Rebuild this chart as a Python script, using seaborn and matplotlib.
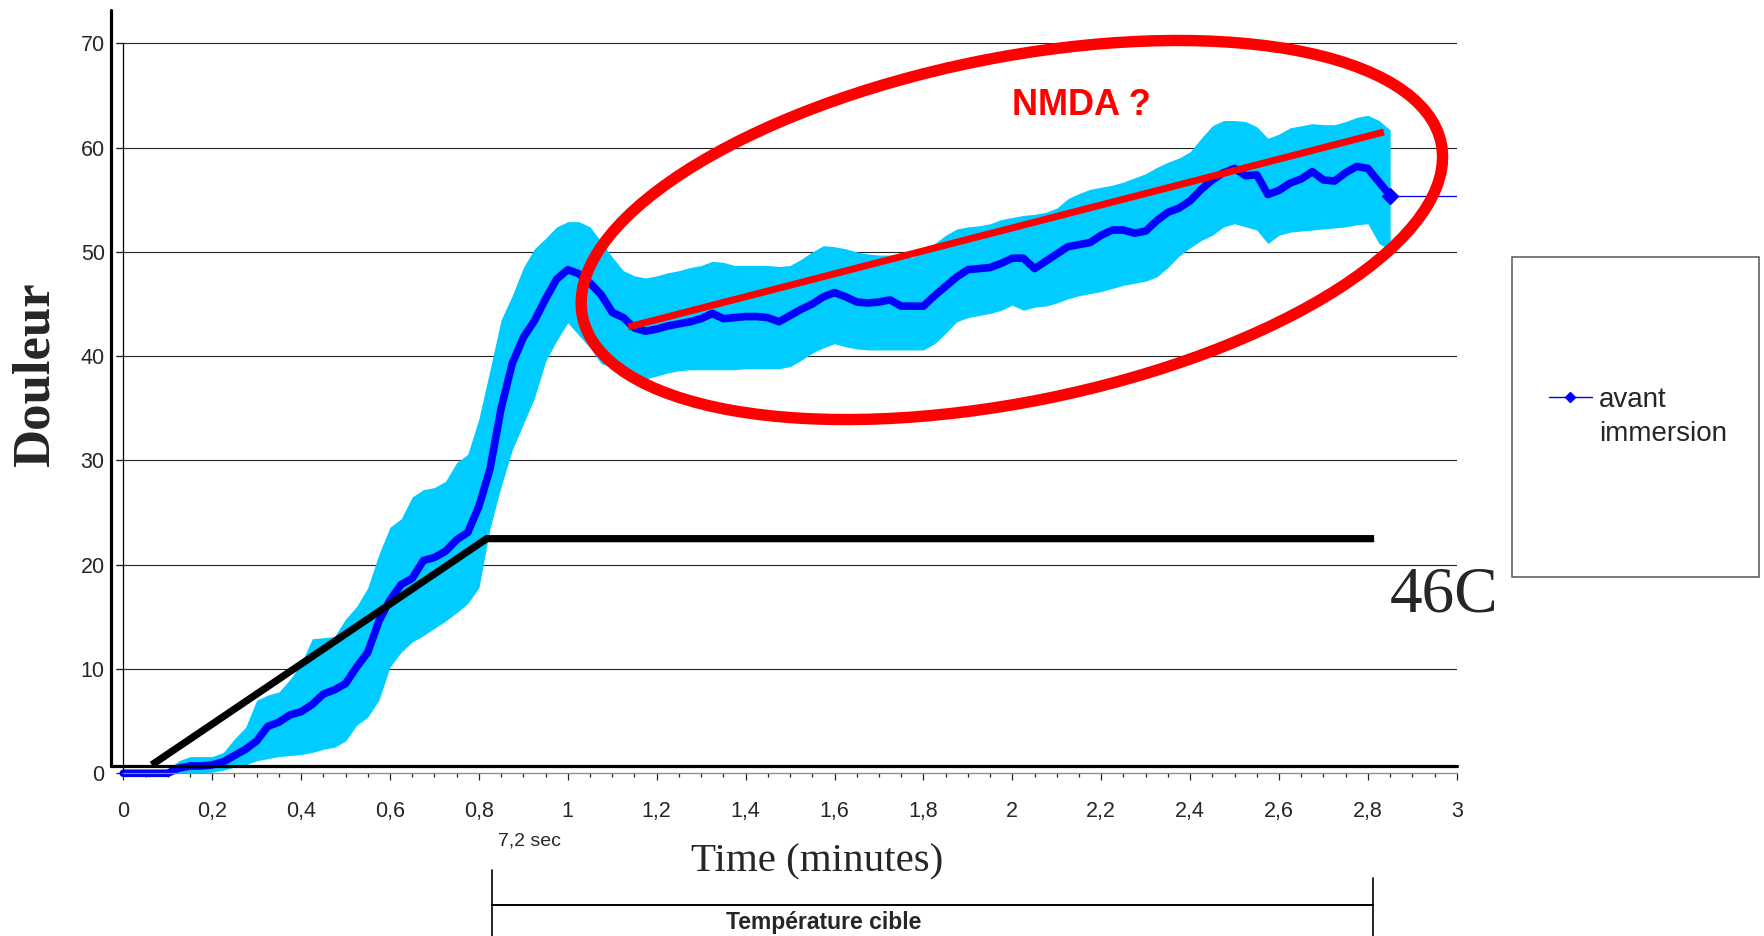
import numpy as np
import matplotlib
matplotlib.use("Agg")
import matplotlib.pyplot as plt
import seaborn as sns
from matplotlib.patches import Ellipse, Rectangle
from matplotlib.lines import Line2D
from matplotlib.transforms import ScaledTranslation, blended_transform_factory

# ---------------- data ----------------
time = [0.000, 0.025, 0.050, 0.075, 0.100, 0.125, 0.150, 0.175, 0.200, 0.225,
        0.250, 0.275, 0.300, 0.325, 0.350, 0.375, 0.400, 0.425, 0.450, 0.475,
        0.500, 0.525, 0.550, 0.575, 0.600, 0.625, 0.650, 0.675, 0.700, 0.725,
        0.750, 0.775, 0.800, 0.825, 0.850, 0.875, 0.900, 0.925, 0.950, 0.975,
        1.000, 1.025, 1.050, 1.075, 1.100, 1.125, 1.150, 1.175, 1.200, 1.225,
        1.250, 1.275, 1.300, 1.325, 1.350, 1.375, 1.400, 1.425, 1.450, 1.475,
        1.500, 1.525, 1.550, 1.575, 1.600, 1.625, 1.650, 1.675, 1.700, 1.725,
        1.750, 1.775, 1.800, 1.825, 1.850, 1.875, 1.900, 1.925, 1.950, 1.975,
        2.000, 2.025, 2.050, 2.075, 2.100, 2.125, 2.150, 2.175, 2.200, 2.225,
        2.250, 2.275, 2.300, 2.325, 2.350, 2.375, 2.400, 2.425, 2.450, 2.475,
        2.500, 2.525, 2.550, 2.575, 2.600, 2.625, 2.650, 2.675, 2.700, 2.725,
        2.750, 2.775, 2.800, 2.825, 2.850]

douleur_mean = [0.0, 0.0, 0.0, 0.0, 0.0, 0.5, 0.7, 0.7, 0.8, 1.1,
                1.7, 2.3, 3.1, 4.5, 4.9, 5.6, 5.9, 6.6, 7.6, 8.0,
                8.6, 10.2, 11.6, 14.6, 16.6, 18.1, 18.7, 20.4, 20.7, 21.3,
                22.4, 23.1, 25.6, 29.2, 35.0, 39.3, 41.8, 43.4, 45.5, 47.4,
                48.3, 47.9, 47.0, 45.9, 44.2, 43.7, 42.7, 42.4, 42.6, 42.9,
                43.1, 43.3, 43.6, 44.1, 43.6, 43.7, 43.8, 43.8, 43.7, 43.3,
                43.9, 44.5, 45.0, 45.7, 46.1, 45.7, 45.2, 45.1, 45.2, 45.4,
                44.8, 44.8, 44.8, 45.8, 46.7, 47.6, 48.3, 48.4, 48.5, 48.9,
                49.4, 49.4, 48.4, 49.1, 49.8, 50.5, 50.7, 50.9, 51.6, 52.1,
                52.1, 51.8, 52.0, 53.0, 53.8, 54.2, 54.9, 56.0, 56.9, 57.6,
                58.0, 57.3, 57.4, 55.5, 55.9, 56.6, 57.0, 57.7, 56.9, 56.8,
                57.6, 58.2, 58.0, 56.7, 55.4]

douleur_upper = [0.3, 0.3, 0.3, 0.3, 0.4, 1.2, 1.6, 1.6, 1.6, 2.0,
                 3.3, 4.4, 7.0, 7.5, 7.8, 9.0, 10.5, 12.9, 13.0, 13.1,
                 14.8, 16.0, 17.8, 21.0, 23.6, 24.4, 26.5, 27.2, 27.4, 28.0,
                 29.8, 30.6, 34.0, 38.7, 43.5, 45.8, 48.5, 50.3, 51.3, 52.4,
                 52.9, 52.9, 52.4, 51.0, 49.5, 48.2, 47.7, 47.5, 47.7, 48.0,
                 48.2, 48.5, 48.7, 49.1, 49.0, 48.7, 48.7, 48.7, 48.7, 48.6,
                 48.7, 49.3, 50.0, 50.6, 50.5, 50.3, 50.0, 49.8, 49.7, 49.7,
                 49.6, 49.5, 50.0, 50.8, 51.6, 52.2, 52.4, 52.5, 52.7, 53.1,
                 53.3, 53.5, 53.6, 53.8, 54.2, 55.1, 55.6, 56.0, 56.2, 56.4,
                 56.7, 57.1, 57.5, 58.1, 58.6, 59.0, 59.6, 60.9, 62.1, 62.6,
                 62.6, 62.5, 62.0, 60.9, 61.3, 61.9, 62.1, 62.3, 62.2, 62.2,
                 62.5, 62.9, 63.1, 62.6, 61.7]

douleur_lower = [0.0, 0.0, 0.0, 0.0, 0.0, 0.0, 0.0, 0.0, 0.1, 0.3,
                 0.6, 0.8, 1.2, 1.4, 1.6, 1.7, 1.8, 2.0, 2.3, 2.5,
                 3.1, 4.6, 5.4, 7.0, 10.2, 11.6, 12.6, 13.2, 13.9, 14.6,
                 15.4, 16.3, 17.8, 23.5, 27.5, 31.0, 33.5, 36.0, 39.5, 41.5,
                 43.2, 42.0, 40.8, 39.3, 38.9, 38.6, 38.0, 37.8, 38.1, 38.4,
                 38.6, 38.7, 38.7, 38.7, 38.7, 38.7, 38.8, 38.8, 38.8, 38.8,
                 39.0, 39.6, 40.3, 40.8, 41.2, 40.9, 40.7, 40.6, 40.6, 40.6,
                 40.6, 40.6, 40.6, 41.2, 42.2, 43.3, 43.7, 43.9, 44.1, 44.4,
                 44.9, 44.4, 44.7, 44.8, 45.1, 45.5, 45.8, 46.0, 46.2, 46.5,
                 46.8, 47.0, 47.2, 47.6, 48.5, 49.6, 50.4, 51.1, 51.6, 52.4,
                 52.7, 52.4, 52.1, 50.8, 51.6, 51.9, 52.0, 52.1, 52.2, 52.3,
                 52.4, 52.6, 52.7, 50.8, 50.2]

tail_time = [2.85, 3.0]
tail_value = [55.4, 55.4]

stim_time = [0.064, 0.8175, 2.814]
stim_level = [0.8, 22.5, 22.5]

trend_time = [1.136, 2.836]
trend_value = [42.8, 61.5]

bracket_time = [0.8305, 2.811]

x_ticks = [0, 0.2, 0.4, 0.6, 0.8, 1.0, 1.2, 1.4, 1.6, 1.8, 2.0, 2.2, 2.4, 2.6, 2.8, 3.0]
x_tick_labels = ["0", "0,2", "0,4", "0,6", "0,8", "1", "1,2", "1,4", "1,6", "1,8",
                 "2", "2,2", "2,4", "2,6", "2,8", "3"]
y_ticks = [0, 10, 20, 30, 40, 50, 60, 70]
y_tick_labels = ["0", "10", "20", "30", "40", "50", "60", "70"]

# ---------------- style ----------------
sns.set_style("white")
plt.rcParams["font.family"] = ["Liberation Sans", "DejaVu Sans"]

W, H = 1765, 936
fig = plt.figure(figsize=(W / 100, H / 100), dpi=100)
ax = fig.add_axes([111 / W, 1 - 783.7 / H, (1456.8 - 111) / W, (783.7 - 10) / H])
XMIN, XMAX = -0.0277, 3.0
YMIN, YMAX = -1.0, 73.2
ax.set_xlim(XMIN, XMAX)
ax.set_ylim(YMIN, YMAX)

BAND = "#00CCFF"
BLUE = "#0000FF"
RED = "#FF0000"

# gridlines
ax.hlines(y_ticks[1:], -0.0164, 3.0, color="#222222", lw=0.8, zorder=0.5)

# band + mean
ax.fill_between(time, douleur_lower, douleur_upper, color=BAND, lw=0, zorder=1)
sns.lineplot(x=time, y=douleur_mean, ax=ax, color=BLUE, lw=5.5, sort=False,
             estimator=None, zorder=2, solid_capstyle="round", solid_joinstyle="round")
ax.plot(tail_time, tail_value, color=BLUE, lw=0.9, zorder=2)
ax.plot(tail_time[:1], tail_value[:1], marker="D", ms=8, color=BLUE, lw=0, zorder=2)

# stimulus profile (black)
ax.plot(stim_time, stim_level, color="black", lw=5.2, zorder=3,
        solid_joinstyle="miter", solid_capstyle="butt")

# trend line (red)
ax.plot(trend_time, trend_value, color=RED, lw=5, zorder=4, solid_capstyle="butt")

# red ellipse (defined around a data point, size in inches)
ell_tr = fig.dpi_scale_trans + ScaledTranslation(1.999, 52.1, ax.transData)
ax.add_patch(Ellipse((0, 0), 8.76, 3.44, angle=11.4, fill=False, ec=RED, lw=8.2,
                     transform=ell_tr, zorder=5, clip_on=False))

# axes frame lines
ax.axvline(XMIN, ymin=(0.73 - YMIN) / (YMAX - YMIN), ymax=1, color="black", lw=2.3,
           clip_on=False, zorder=6)
ax.axhline(0.73, xmin=0, xmax=1, color="black", lw=2.3, clip_on=False, zorder=6)

for s in ["top", "right"]:
    ax.spines[s].set_visible(False)
ax.spines["left"].set_position(("data", 0))
ax.spines["left"].set_bounds(0, 70)
ax.spines["left"].set_color("black")
ax.spines["left"].set_linewidth(0.9)
ax.spines["bottom"].set_position(("data", 0))
ax.spines["bottom"].set_bounds(0, 3)
ax.spines["bottom"].set_color("#888888")
ax.spines["bottom"].set_linewidth(0.9)

ax.set_xticks(x_ticks)
ax.set_xticklabels(x_tick_labels)
ax.set_xticks(np.arange(0, 3.001, 0.05), minor=True)
ax.set_yticks(y_ticks)
ax.set_yticklabels(y_tick_labels)
ax.tick_params(axis="x", which="major", direction="out", length=5.3, width=0.9,
               color="#222222", pad=15, labelsize=15.5, bottom=True)
ax.tick_params(axis="x", which="minor", direction="out", length=3, width=0.9,
               color="#222222", bottom=True)
ax.tick_params(axis="y", which="major", direction="out", length=5, width=0.9,
               color="#222222", pad=8.4, labelsize=15.5, left=True)

# axis labels
ax.set_xlabel("Time (minutes)", family=["Liberation Serif", "DejaVu Serif"], fontsize=29.5)
ax.xaxis.set_label_coords((817.5 - 111) / 1345.8, (783.7 - 871.7) / 773.7)
ax.xaxis.label.set_va("baseline")
ax.set_ylabel("Douleur", family=["Liberation Serif", "DejaVu Serif"], fontsize=38,
              fontweight="bold")
ax.yaxis.set_label_coords((35.5 - 111) / 1345.8, (783.7 - 375) / 773.7)
ax.yaxis.label.set_va("center")

# annotations
ax.text(2.1545, 63.1, "NMDA ?", color=RED, fontsize=26, fontweight="bold",
        ha="center", va="baseline", zorder=7)
ax.text(2.85, 15.56, "46C", family=["Liberation Serif", "DejaVu Serif"], fontsize=47,
        ha="left", va="baseline", clip_on=False, zorder=7)

btr = blended_transform_factory(ax.transData, fig.transFigure)
ax.text(0.842, 1 - 841 / H, "7,2 sec", transform=btr, fontsize=14, ha="left",
        va="center")
ax.plot(bracket_time, [1 - 904.5 / H] * 2, transform=btr, color="black", lw=1.4,
        clip_on=False)
ax.plot([bracket_time[0]] * 2, [1 - 870 / H, 0], transform=btr, color="black", lw=1.2,
        clip_on=False)
ax.plot([bracket_time[1]] * 2, [1 - 878 / H, 0], transform=btr, color="black", lw=1.2,
        clip_on=False)
ax.text(sum(bracket_time) / 2 - 0.245, 1 - 929 / H, "Température cible", transform=btr,
        fontsize=16.5, fontweight="bold", ha="center", va="baseline")

# legend box + legend
fig.patches.append(Rectangle((1511.7 / W, 1 - 577 / H), (1759 - 1511.7) / W, 320 / H,
                             transform=fig.transFigure, fill=False, ec="#555555",
                             lw=1.1))
handles = [Line2D([], [], color=BLUE, lw=1, marker="D", ms=5),
           Line2D([], [], lw=0, alpha=0)]
fig.legend(handles, ["avant", "immersion"], loc="center left",
           bbox_to_anchor=(1549 / W, 1 - 417 / H), bbox_transform=fig.transFigure,
           frameon=False, fontsize=20, handlelength=1.54, handletextpad=0.25,
           borderpad=0, borderaxespad=0, labelspacing=0.32)

fig.savefig("out.png", dpi=100)
